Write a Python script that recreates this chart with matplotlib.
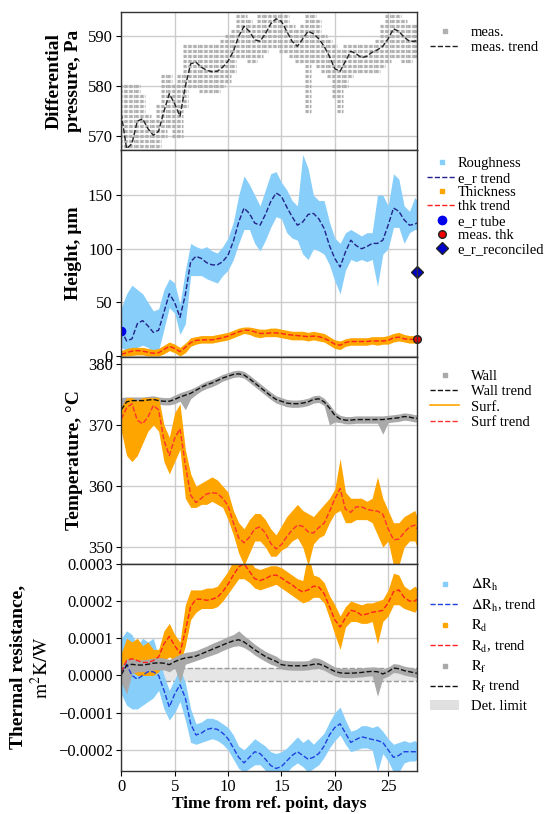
import numpy as np
import matplotlib
matplotlib.use('Agg')
import matplotlib.pyplot as plt
from matplotlib.lines import Line2D
from matplotlib.patches import Patch
from matplotlib.ticker import FuncFormatter

plt.rcParams['font.family'] = ['Liberation Serif', 'DejaVu Serif']
plt.rcParams['mathtext.fontset'] = 'stix'

# ---------------- data ----------------
days = [0, 0.5, 1, 1.5, 2, 2.5, 3, 3.5, 4, 4.5, 5, 5.5, 6, 6.5, 7, 7.5, 8, 8.5, 9, 9.5,
        10, 10.5, 11, 11.5, 12, 12.5, 13, 13.5, 14, 14.5, 15, 15.5, 16, 16.5, 17, 17.5,
        18, 18.5, 19, 19.5, 20, 20.5, 21, 21.5, 22, 22.5, 23, 23.5, 24, 24.5, 25, 25.5,
        26, 26.5, 27, 27.5, 27.7]

# Differential pressure, Pa
p_trend = [574.5, 567.5, 568.5, 573, 573.5, 571.5, 570.2, 571, 575, 578.5,
           576.5, 574, 580, 584.5, 584.8, 583.8, 583.2, 582.9, 583, 583.8,
           585, 587, 590, 592, 591, 589.3, 589, 590.5, 592.5, 593.5,
           593, 591, 589, 588, 589.5, 591, 590.5, 589.5, 588, 586,
           583.5, 583, 585, 587, 586.5, 585.7, 586, 586.8, 587.3, 588,
           589.5, 591.5, 591, 589.8, 589, 589, 589.2]
p_lo = [567, 567, 567, 568, 568, 567, 567, 567, 570, 572,
        570, 570, 576, 580, 580, 579, 579, 579, 579, 580,
        581, 583, 586, 586, 585, 585, 586, 587, 588, 588,
        587, 587, 586, 585, 585, 575, 585, 584, 583, 582,
        578, 575, 580, 582, 583, 583, 583, 583, 583, 584,
        585, 586, 586, 585, 585, 586, 586]
p_hi = [580, 580, 580, 580, 578, 574, 573, 576, 582, 582,
        580, 582, 588, 588, 588, 588, 588, 588, 588, 589,
        590, 591, 595, 595, 593, 592, 594, 595, 595, 595,
        595, 594, 592, 591, 592, 595, 595, 593, 590, 589,
        588, 587, 588, 588, 588, 588, 588, 588, 589, 592,
        595, 595, 595, 593, 592, 592, 592]

# Height, um
r_trend = [24, 14, 16, 30, 33, 28, 22, 24, 41, 58,
           50, 36, 57, 88, 93, 91, 87, 85, 85, 88,
           94, 107, 125, 138, 133, 124, 122, 132, 144, 152,
           149, 139, 130, 122, 125, 132, 133, 128, 119, 103,
           91, 83, 97, 108, 103, 100, 102, 105, 105, 108,
           122, 138, 135, 127, 122, 123, 124]
r_lo = [8, 5, 5, 8, 10, 8, 3, 5, 25, 45,
        40, 20, 30, 75, 75, 75, 72, 70, 68, 75,
        80, 90, 105, 118, 118, 105, 98, 108, 120, 130,
        128, 115, 110, 108, 95, 90, 100, 98, 95, 85,
        70, 58, 80, 90, 88, 90, 88, 90, 65, 95,
        100, 120, 120, 105, 115, 118, 118]
r_hi = [45, 58, 66, 62, 58, 50, 42, 44, 62, 72,
        68, 48, 80, 105, 102, 100, 102, 98, 96, 102,
        110, 125, 150, 168, 160, 150, 140, 155, 170, 172,
        162, 155, 145, 140, 188, 175, 150, 145, 145, 125,
        110, 105, 115, 118, 115, 112, 115, 115, 150, 150,
        140, 170, 165, 140, 135, 148, 145]
thk_trend = [1.5, 3, 4.5, 5, 4.5, 3.5, 2.5, 3, 6, 9,
             7, 4, 8, 12.5, 14.5, 15, 15, 15, 16, 17,
             18.5, 20.5, 22.5, 24, 24, 22.5, 21, 21, 21.5, 21.5,
             21, 20, 19.5, 19, 18.5, 18, 18.5, 18, 16.5, 14,
             11, 10, 12.5, 13.5, 13.5, 13.5, 13.5, 14, 14, 14,
             14.5, 17, 17.5, 16, 15.5, 15.5, 15.5]
thk_lo = [0, 0, 0.5, 1, 1, 0, 0, 0, 2, 5,
          3, 0, 3, 9, 11, 12, 12, 12, 13, 14,
          15, 17, 19, 21, 20, 18, 17, 18, 18, 18,
          17, 16, 15, 15, 15, 14, 15, 14, 13, 10,
          7, 6, 9, 10, 10, 10, 10, 11, 10, 11,
          11, 13, 14, 13, 12, 12, 12]
thk_hi = [5, 7, 8, 8, 8, 7, 6, 7, 10, 13,
          11, 8, 12, 17, 18, 19, 19, 19, 20, 21,
          22, 24, 26, 27, 27, 26, 25, 25, 26, 26,
          25, 24, 23, 23, 23, 22, 23, 22, 21, 18,
          15, 14, 16, 17, 17, 17, 17, 18, 18, 18,
          19, 21, 22, 20, 19, 19, 19]
er_tube = (0.0, 23.0)
meas_thk = (27.7, 15.6)
er_reconciled = (27.7, 78.0)

# Temperature, C
wall_trend = [372.5, 373.8, 374.0, 374.0, 374.0, 374.1, 374.2, 374.0, 373.9, 373.9,
              374.2, 374.6, 374.9, 375.2, 375.7, 376.2, 376.6, 376.9, 377.3, 377.7,
              378.0, 378.3, 378.4, 378.2, 377.6, 376.9, 376.2, 375.5, 374.8, 374.2,
              373.9, 373.6, 373.5, 373.5, 373.6, 373.8, 374.2, 374.3, 373.8, 372.8,
              371.6, 371.0, 370.8, 370.8, 370.9, 370.9, 370.9, 370.9, 370.9, 370.9,
              371.0, 371.1, 371.2, 371.4, 371.3, 371.1, 371.1]
wall_lo = [370.5, 373.0, 373.3, 373.4, 373.3, 373.5, 373.6, 373.4, 373.3, 373.3,
           373.5, 373.9, 372.5, 374.3, 375.0, 375.6, 376.0, 376.3, 376.7, 377.2,
           377.5, 377.8, 377.9, 377.7, 377.0, 376.3, 375.6, 374.9, 374.2, 373.6,
           373.3, 373.0, 372.9, 372.9, 373.0, 373.2, 373.6, 373.7, 373.2, 370.0,
           370.5, 370.4, 370.2, 370.2, 370.3, 370.3, 370.3, 370.3, 370.3, 368.5,
           370.4, 370.5, 370.6, 370.8, 370.7, 370.5, 370.5]
wall_hi = [374.5, 374.6, 374.6, 374.6, 374.6, 374.7, 374.8, 374.6, 374.5, 374.5,
           374.9, 375.3, 375.6, 375.9, 376.3, 376.8, 377.2, 377.5, 377.9, 378.3,
           378.6, 378.9, 379.0, 378.8, 378.2, 377.5, 376.8, 376.1, 375.4, 374.8,
           374.5, 374.2, 374.1, 374.1, 374.2, 374.4, 374.8, 374.9, 374.4, 373.4,
           372.2, 371.6, 371.4, 371.4, 371.5, 371.5, 371.5, 371.5, 371.5, 371.5,
           371.6, 371.7, 371.8, 372.0, 371.9, 371.7, 371.7]
surf_trend = [371.0, 372.8, 373.5, 370.8, 370.2, 371.3, 373.2, 372.5, 367.5, 365.0,
              367.8, 369.4, 363.5, 358.5, 357.3, 358.0, 358.7, 358.9, 358.8, 358.0,
              356.8, 354.0, 351.5, 350.7, 351.6, 353.0, 353.3, 352.3, 350.6, 349.7,
              350.4, 351.7, 352.8, 353.6, 353.4, 352.5, 352.3, 353.2, 353.9, 355.8,
              357.9, 359.6, 356.2, 355.7, 356.6, 356.6, 356.2, 356.0, 355.9, 355.4,
              353.0, 351.2, 351.3, 352.4, 353.3, 353.6, 353.0]
surf_lo = [369, 365, 364, 365, 367, 369, 370, 369, 364, 362,
           364, 366, 358, 356.5, 356.5, 357, 357, 357.5, 357, 356.5,
           354.5, 352, 349, 347, 349, 351, 351, 350, 348.5, 348.5,
           349.5, 350, 351, 351.5, 350, 347, 350.5, 351.5, 352, 354,
           355.5, 356, 354, 354, 354.5, 354.5, 354.5, 354, 352, 350,
           351, 347, 347, 350, 351, 351, 350]
surf_hi = [373, 374.5, 374.5, 374, 374.5, 374.5, 374.5, 374.5, 370, 368,
           372, 373.5, 366, 362, 360, 360.5, 361, 361.5, 361, 360,
           359, 356, 354, 353, 354.5, 355.5, 355.5, 354.5, 353, 352,
           353.5, 355, 356, 357, 356, 355.5, 355, 356, 357, 358,
           359.5, 364.5, 359, 358, 358, 358, 357.5, 358, 361.5, 358,
           356, 354, 354, 355, 355.5, 356, 355]

# Thermal resistance, 1e-4 m2K/W
R_UNIT = 1e-4
dh_trend = [0.1, 0.3, 0.0, -0.1, 0.0, 0.1, 0.1, 0.0, -0.4, -0.85,
            -0.5, -0.25, -0.6, -1.3, -1.6, -1.55, -1.45, -1.42, -1.45, -1.55,
            -1.7, -1.95, -2.2, -2.35, -2.2, -2.05, -2.1, -2.25, -2.42, -2.5,
            -2.45, -2.3, -2.15, -2.05, -2.15, -2.25, -2.2, -2.1, -1.9, -1.6,
            -1.4, -1.3, -1.55, -1.8, -1.72, -1.65, -1.68, -1.72, -1.75, -1.8,
            -2.0, -2.2, -2.15, -2.05, -2.05, -2.05, -2.05]
dh_lo = [-0.5, -0.8, -0.9, -0.9, -0.8, -0.7, -0.6, -0.4, -0.9, -1.2,
         -1.0, -0.7, -1.2, -1.8, -1.85, -1.8, -1.75, -1.7, -1.75, -1.85,
         -2.0, -2.25, -2.5, -2.6, -2.5, -2.4, -2.4, -2.55, -2.6, -2.6,
         -2.6, -2.6, -2.45, -2.35, -2.45, -2.6, -2.5, -2.4, -2.2, -1.95,
         -1.75, -1.6, -1.85, -2.05, -2.0, -1.95, -1.95, -2.0, -2.6, -2.1,
         -2.3, -2.6, -2.6, -2.35, -2.3, -2.3, -2.25]
dh_hi = [1.0, 1.2, 1.1, 0.8, 1.0, 0.9, 1.0, 0.5, 0.0, -0.4,
         -0.1, 0.2, -0.2, -0.9, -1.3, -1.25, -1.15, -1.15, -1.2, -1.3,
         -1.4, -1.6, -1.9, -2.0, -1.85, -1.7, -1.8, -1.9, -2.05, -2.1,
         -2.05, -1.95, -1.8, -1.65, -1.8, -1.7, -1.85, -1.7, -1.55, -1.25,
         -1.0, -0.85, -1.2, -1.5, -1.45, -1.35, -1.35, -1.4, -1.35, -1.5,
         -1.7, -1.85, -1.8, -1.75, -1.8, -1.75, -1.8]
rd_trend = [0.1, 0.4, 0.45, 0.4, 0.35, 0.35, 0.4, 0.5, 0.85, 1.05,
            0.8, 0.6, 1.2, 1.85, 2.05, 2.05, 2.02, 2.05, 2.1, 2.25,
            2.45, 2.7, 2.92, 3.0, 2.8, 2.6, 2.55, 2.6, 2.68, 2.7,
            2.62, 2.52, 2.44, 2.32, 2.25, 2.3, 2.4, 2.38, 2.2, 1.85,
            1.5, 1.3, 1.55, 1.75, 1.72, 1.62, 1.65, 1.7, 1.72, 1.75,
            1.95, 2.25, 2.3, 2.1, 2.0, 2.0, 2.05]
rd_lo = [-0.1, 0.0, 0.1, 0.0, 0.0, 0.0, 0.0, 0.1, 0.4, 0.5,
         0.4, 0.3, 0.8, 1.5, 1.7, 1.8, 1.8, 1.8, 1.85, 2.0,
         2.2, 2.4, 2.6, 2.6, 2.5, 2.35, 2.3, 2.35, 2.4, 2.45,
         2.35, 2.25, 2.15, 2.05, 1.95, 2.0, 2.1, 2.1, 1.95, 1.55,
         1.1, 0.7, 1.3, 1.45, 1.45, 1.4, 1.4, 1.45, 0.85, 1.45,
         1.6, 1.9, 1.9, 1.8, 1.75, 1.7, 1.8]
rd_hi = [0.6, 1.0, 0.9, 1.0, 0.8, 0.9, 0.7, 0.7, 1.2, 1.4,
         1.1, 0.9, 1.9, 2.3, 2.3, 2.3, 2.35, 2.35, 2.4, 2.6,
         2.8, 3.1, 3.3, 3.3, 3.1, 2.9, 2.85, 2.9, 2.95, 2.95,
         2.9, 2.8, 2.7, 2.6, 2.55, 3.3, 2.7, 2.65, 2.5, 2.15,
         1.9, 1.6, 1.85, 2.0, 1.95, 1.9, 1.95, 1.95, 2.0, 2.05,
         2.3, 2.75, 2.7, 2.4, 2.3, 2.4, 2.35]
rf_trend = [0.02, 0.27, 0.3, 0.28, 0.28, 0.3, 0.33, 0.34, 0.33, 0.29,
            0.37, 0.43, 0.47, 0.49, 0.52, 0.58, 0.64, 0.7, 0.76, 0.82,
            0.88, 0.93, 0.96, 0.9, 0.8, 0.69, 0.6, 0.51, 0.44, 0.38,
            0.29, 0.27, 0.26, 0.26, 0.26, 0.27, 0.3, 0.31, 0.26, 0.18,
            0.11, 0.07, 0.06, 0.06, 0.07, 0.08, 0.1, 0.11, 0.1, 0.04,
            0.1, 0.2, 0.18, 0.13, 0.1, 0.07, 0.06]
rf_lo = [-0.2, -0.5, 0.05, 0.1, 0.1, 0.1, 0.15, 0.15, 0.15, 0.1,
         0.2, -0.2, 0.3, 0.35, 0.4, 0.45, 0.5, 0.55, 0.6, 0.67,
         0.73, 0.78, 0.8, 0.75, 0.66, 0.55, 0.46, 0.38, 0.3, 0.25,
         0.17, 0.15, 0.14, 0.14, 0.14, 0.15, 0.18, 0.19, 0.14, 0.06,
         -0.01, -0.05, -0.06, -0.06, -0.05, -0.04, -0.02, -0.01, -0.56, -0.08,
         -0.02, 0.08, 0.06, 0.01, -0.02, -0.05, -0.06]
rf_hi = [0.25, 0.45, 0.45, 0.42, 0.42, 0.44, 0.47, 0.48, 0.47, 0.43,
         0.5, 0.57, 0.62, 0.64, 0.67, 0.73, 0.79, 0.86, 0.92, 0.98,
         1.05, 1.1, 1.2, 1.07, 0.96, 0.84, 0.74, 0.65, 0.58, 0.52,
         0.42, 0.4, 0.39, 0.39, 0.39, 0.4, 0.48, 0.46, 0.39, 0.31,
         0.23, 0.19, 0.18, 0.18, 0.19, 0.2, 0.22, 0.23, 0.22, 0.17,
         0.22, 0.32, 0.3, 0.25, 0.22, 0.19, 0.18]
det_limit = (-0.16, 0.20)

# ---------------- styling ----------------
C_GREY = '#a9a9a9'
C_LBLUE = '#87cefa'
C_ORANGE = '#ffa500'
TICK_FS = 12
LAB_FS = 14
LEG_FS = 10.5

fig = plt.figure(figsize=(5.48, 8.14), dpi=100)
gs = fig.add_gridspec(4, 1, height_ratios=[2, 3, 3, 3], hspace=0,
                      left=0.2213, right=0.7609, top=0.9849, bottom=0.0532)
axs = [fig.add_subplot(gs[i]) for i in range(4)]

d = np.array(days)
for ax in axs:
    ax.set_xlim(0, 27.7)
    ax.set_xticks([0, 5, 10, 15, 20, 25])
    ax.grid(True, color='#cccccc', lw=1.0)
    ax.set_axisbelow(True)
    ax.tick_params(labelsize=TICK_FS, pad=2.5)
    for s in ax.spines.values():
        s.set_color('#333333')
        s.set_linewidth(1.0)
for ax in axs[:3]:
    ax.tick_params(labelbottom=False)

leg_kw = dict(loc='upper left', frameon=False, fontsize=LEG_FS,
              labelspacing=0.13, handlelength=2.0)

def dot(color):
    return Line2D([], [], marker='s', ls='none', color=color, ms=2.5)

def dash(color):
    return Line2D([], [], ls='--', color=color, lw=1.0)

def band(ax, lo, hi, color, scale=1.0):
    ax.fill_between(d, np.array(lo) * scale, np.array(hi) * scale, color=color, lw=0)

# ---- panel 1: pressure ----
ax = axs[0]
ys, x0, x1 = [], [], []
for di, lo, hi in zip(days, p_lo, p_hi):
    for lev in range(int(np.ceil(lo)), int(np.floor(hi)) + 1):
        ys.append(lev); x0.append(di - 0.25); x1.append(di + 0.25)
ax.hlines(ys, x0, x1, colors='#b0b0b0', lw=2.3, linestyles=(0, (1.0, 0.35)))
ax.plot(d, p_trend, ls='--', color='#222222', lw=1.0)
ax.set_ylim(567.2, 594.8)
ax.set_yticks([570, 580, 590])
ax.set_ylabel('Differential\npressure, Pa', fontsize=LAB_FS, fontweight='bold')
ax.legend([dot('#b0b0b0'), dash('#222222')], ['meas.', 'meas. trend'],
          bbox_to_anchor=(1.0, 1.0), **leg_kw)

# ---- panel 2: height ----
ax = axs[1]
band(ax, r_lo, r_hi, C_LBLUE)
ax.plot(d, r_trend, ls='--', color='#22228a', lw=1.0)
band(ax, thk_lo, thk_hi, C_ORANGE)
ax.plot(d, thk_trend, ls='--', color='#ff2020', lw=1.0)
ax.plot([er_tube[0]], [er_tube[1]], 'o', color='#0000ee', ms=6)
ax.plot([meas_thk[0]], [meas_thk[1]], 'o', color='#ee0000', mec='#222222', ms=5.5, clip_on=False)
ax.plot([er_reconciled[0]], [er_reconciled[1]], 'D', color='#0000cc', mec='#222222', ms=6, clip_on=False)
ax.set_ylim(-1, 192)
ax.set_yticks([0, 50, 100, 150])
ax.set_ylabel('Height, µm', fontsize=LAB_FS, fontweight='bold')
h2 = [dot(C_LBLUE), dash('#22228a'), dot(C_ORANGE), dash('#ff2020'),
      Line2D([], [], marker='o', ls='none', color='#0000ee', ms=6),
      Line2D([], [], marker='o', ls='none', color='#ee0000', mec='#222222', ms=5.5),
      Line2D([], [], marker='D', ls='none', color='#0000cc', mec='#222222', ms=6)]
kw2 = dict(leg_kw); kw2['handletextpad'] = 0.1; kw2['labelspacing'] = 0.08
ax.legend(h2, ['Roughness', 'e_r trend', 'Thickness', 'thk trend', 'e_r tube',
               'meas. thk', 'e_r_reconciled'], bbox_to_anchor=(0.99, 1.03), **kw2)

# ---- panel 3: temperature ----
ax = axs[2]
band(ax, wall_lo, wall_hi, C_GREY)
ax.plot(d, wall_trend, ls='--', color='#111111', lw=1.0)
band(ax, surf_lo, surf_hi, C_ORANGE)
ax.plot(d, surf_trend, ls='--', color='#ff3030', lw=1.0)
ax.set_ylim(347.25, 381.15)
ax.set_yticks([350, 360, 370, 380])
ax.set_ylabel('Temperature, °C', fontsize=LAB_FS, fontweight='bold')
h3 = [dot(C_GREY), dash('#111111'), Line2D([], [], color=C_ORANGE, lw=1.2), dash('#ff3030')]
ax.legend(h3, ['Wall', 'Wall trend', 'Surf.', 'Surf trend'],
          bbox_to_anchor=(1.0, 1.0), **leg_kw)

# ---- panel 4: thermal resistance ----
ax = axs[3]
u = R_UNIT
ax.axhspan(det_limit[0] * u, det_limit[1] * u, color='#e6e6e6', zorder=0.8, lw=0)
ax.axhline(det_limit[0] * u, ls='--', color='#999999', lw=1.0, zorder=0.9)
ax.axhline(det_limit[1] * u, ls='--', color='#999999', lw=1.0, zorder=0.9)
band(ax, dh_lo, dh_hi, C_LBLUE, u)
ax.plot(d, np.array(dh_trend) * u, ls='--', color='#2040e0', lw=1.0)
band(ax, rd_lo, rd_hi, C_ORANGE, u)
ax.plot(d, np.array(rd_trend) * u, ls='--', color='#ff2020', lw=1.0)
band(ax, rf_lo, rf_hi, C_GREY, u)
ax.plot(d, np.array(rf_trend) * u, ls='--', color='#111111', lw=1.0)
ax.set_ylim(-2.56e-4, 3.0e-4)
ax.set_yticks([-2e-4, -1e-4, 0, 1e-4, 2e-4, 3e-4])
ax.yaxis.set_major_formatter(FuncFormatter(lambda v, p: f'{v:.4f}'.replace('-', '\u2212')
                                           if abs(v) > 1e-12 else '0.0000'))
ax.set_ylabel('Thermal resistance,\n' + r'$\mathrm{m^2K/W}$', fontsize=LAB_FS, fontweight='bold')
ax.set_xlabel('Time from ref. point, days', fontsize=12.5, fontweight='bold', labelpad=1)
h4 = [dot(C_LBLUE), dash('#2040e0'), dot(C_ORANGE), dash('#ff2020'),
      dot(C_GREY), dash('#111111'), Patch(facecolor='#e0e0e0', edgecolor='none')]
l4 = [r'$\Delta\mathrm{R_h}$', r'$\Delta\mathrm{R_h}$, trend', r'$\mathrm{R_d}$',
      r'$\mathrm{R_d}$, trend', r'$\mathrm{R_f}$', r'$\mathrm{R_f}$ trend', 'Det. limit']
kw4 = dict(leg_kw); kw4['labelspacing'] = 0.3
ax.legend(h4, l4, bbox_to_anchor=(1.0, 1.0), **kw4)

fig.savefig('out.png', dpi=100)
